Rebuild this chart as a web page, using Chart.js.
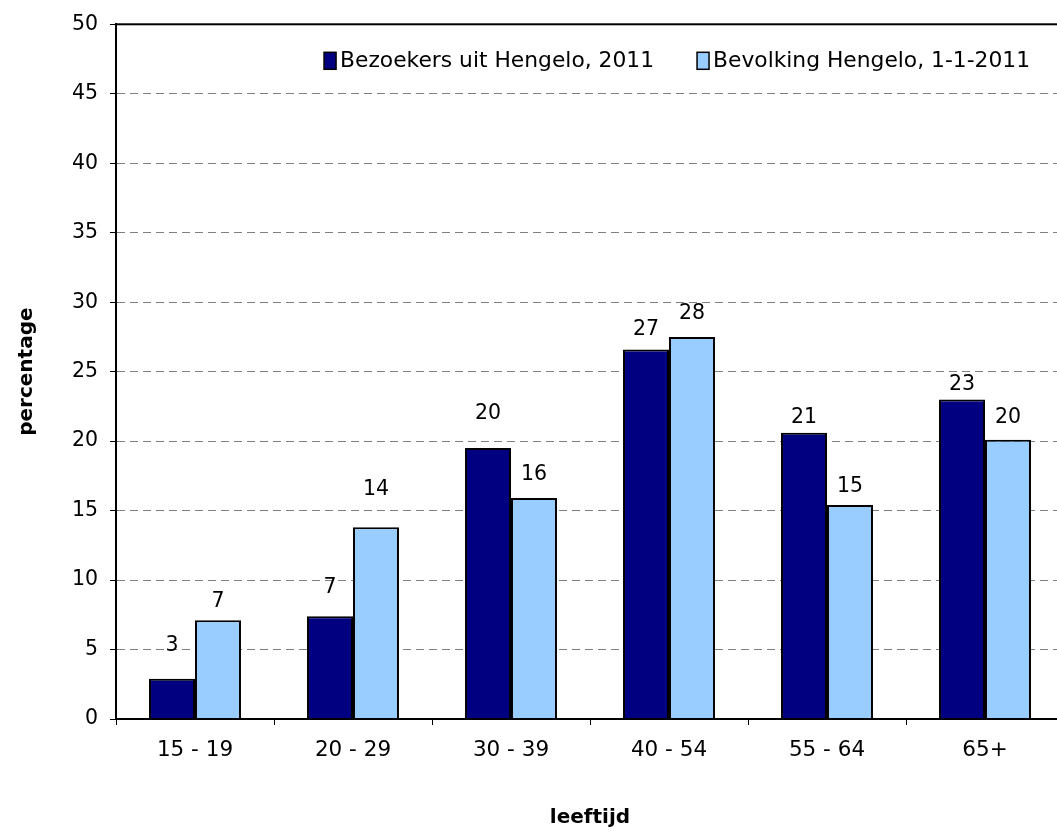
<!DOCTYPE html>
<html>
<head>
<meta charset="utf-8">
<script src="https://cdn.jsdelivr.net/npm/chart.js@4/dist/chart.umd.min.js"></script>
<style>
  html, body { margin: 0; padding: 0; background: #fff; overflow: hidden; width: 1057px; height: 834px; }
  canvas { display: block; }
</style>
</head>
<body>
<canvas id="c" width="1070" height="834"></canvas>
<script>
// ---- data ----
const categories = ['15 - 19', '20 - 29', '30 - 39', '40 - 54', '55 - 64', '65+'];
const seriesNames = ['Bezoekers uit Hengelo, 2011', 'Bevolking Hengelo, 1-1-2011'];
const bezoekers = [2.9, 7.4, 19.5, 26.6, 20.6, 23.0];
const bevolking = [7.1, 13.8, 15.9, 27.5, 15.4, 20.1];
const yMin = 0, yMax = 50, yStep = 5;
const xTitle = 'leeftijd';
const yTitle = 'percentage';

// ---- style ----
const FONT = "'DejaVu Sans', Verdana, sans-serif";
const darkColor = '#000080';
const lightColor = '#99CCFF';
// label lift above bar top (px), as placed in the original
const labelLift = [[33, 29, 34, 20, 15, 15], [19, 38, 23, 23, 18, 22]];

const valueLabels = {
  id: 'valueLabels',
  afterDatasetsDraw(chart) {
    const ctx = chart.ctx;
    ctx.save();
    ctx.font = '20.5px ' + FONT;
    ctx.fillStyle = '#000';
    ctx.textAlign = 'center';
    ctx.textBaseline = 'middle';
    chart.data.datasets.forEach((ds, di) => {
      const meta = chart.getDatasetMeta(di);
      meta.data.forEach((bar, i) => {
        ctx.fillText(String(Math.round(ds.data[i])), bar.x, bar.y - labelLift[di][i]);
      });
    });
    ctx.restore();
  }
};

const frame = {
  id: 'frame',
  afterDatasetsDraw(chart) {
    const a = chart.chartArea;
    const ctx = chart.ctx;
    ctx.save();
    ctx.strokeStyle = '#000';
    ctx.lineWidth = 2;
    ctx.setLineDash([]);
    ctx.strokeRect(a.left, a.top, a.right - a.left, a.bottom - a.top);
    ctx.restore();
  }
};

// legend inside the plot area, right side, one row
const innerLegend = {
  id: 'innerLegend',
  afterDraw(chart) {
    const a = chart.chartArea;
    const ctx = chart.ctx;
    const boxW = 12, boxH = 17, boxGap = 4, itemGap = 43;
    ctx.save();
    ctx.font = '21.8px ' + FONT;
    ctx.textBaseline = 'middle';
    ctx.textAlign = 'left';
    const dss = chart.data.datasets;
    let xEnd = a.right - 34;
    const boxTop = a.top + 28;
    const textY = a.top + 37;
    for (let i = dss.length - 1; i >= 0; i--) {
      const tw = ctx.measureText(dss[i].label).width;
      const tx = xEnd - tw;
      const bx = tx - boxGap - boxW;
      ctx.fillStyle = dss[i].backgroundColor;
      ctx.fillRect(bx, boxTop, boxW, boxH);
      ctx.strokeStyle = '#000';
      ctx.lineWidth = 1.5;
      ctx.strokeRect(bx, boxTop, boxW, boxH);
      ctx.fillStyle = '#000';
      ctx.fillText(dss[i].label, tx, textY);
      xEnd = bx - itemGap;
    }
    ctx.restore();
  }
};

new Chart(document.getElementById('c'), {
  type: 'bar',
  data: {
    labels: categories,
    datasets: [
      { label: seriesNames[0], data: bezoekers, backgroundColor: darkColor, borderColor: '#000', borderWidth: 2,
        categoryPercentage: 0.582, barPercentage: 1.0 },
      { label: seriesNames[1], data: bevolking, backgroundColor: lightColor, borderColor: '#000', borderWidth: 2,
        categoryPercentage: 0.582, barPercentage: 1.0 }
    ]
  },
  options: {
    responsive: false,
    animation: false,
    devicePixelRatio: 1,
    layout: { padding: { top: 19, right: 6, left: 0, bottom: 0 } },
    plugins: {
      tooltip: { enabled: false },
      legend: { display: false }
    },
    scales: {
      x: {
        afterFit(scale) { scale.height = 115; },
        grid: {
          offset: true,
          drawOnChartArea: false,
          tickLength: 6,
          tickColor: '#000',
          tickWidth: 1,
          tickBorderDash: []
        },
        border: { color: '#000', width: 2 },
        ticks: { font: { family: FONT, size: 21.5 }, color: '#000', padding: 13 },
        title: {
          display: true,
          text: xTitle,
          font: { family: FONT, size: 20, weight: 'bold' },
          color: '#000',
          padding: { top: 0, bottom: 4 }
        }
      },
      y: {
        min: yMin,
        max: yMax,
        afterFit(scale) { scale.width = 116; },
        grid: {
          color: (c) => (c.tick && (c.tick.value === yMin || c.tick.value === yMax)) ? 'rgba(0,0,0,0)' : '#808080',
          lineWidth: 1,
          tickLength: 6,
          tickColor: '#000',
          tickWidth: 1,
          tickBorderDash: []
        },
        border: { color: '#000', width: 2, dash: [8, 5] },
        ticks: { stepSize: yStep, font: { family: FONT, size: 20.5 }, color: '#000', padding: 12 },
        title: {
          display: true,
          text: yTitle,
          font: { family: FONT, size: 20, weight: 'bold' },
          color: '#000',
          padding: { top: 15, bottom: 0 }
        }
      }
    }
  },
  plugins: [frame, valueLabels, innerLegend]
});
</script>
</body>
</html>
